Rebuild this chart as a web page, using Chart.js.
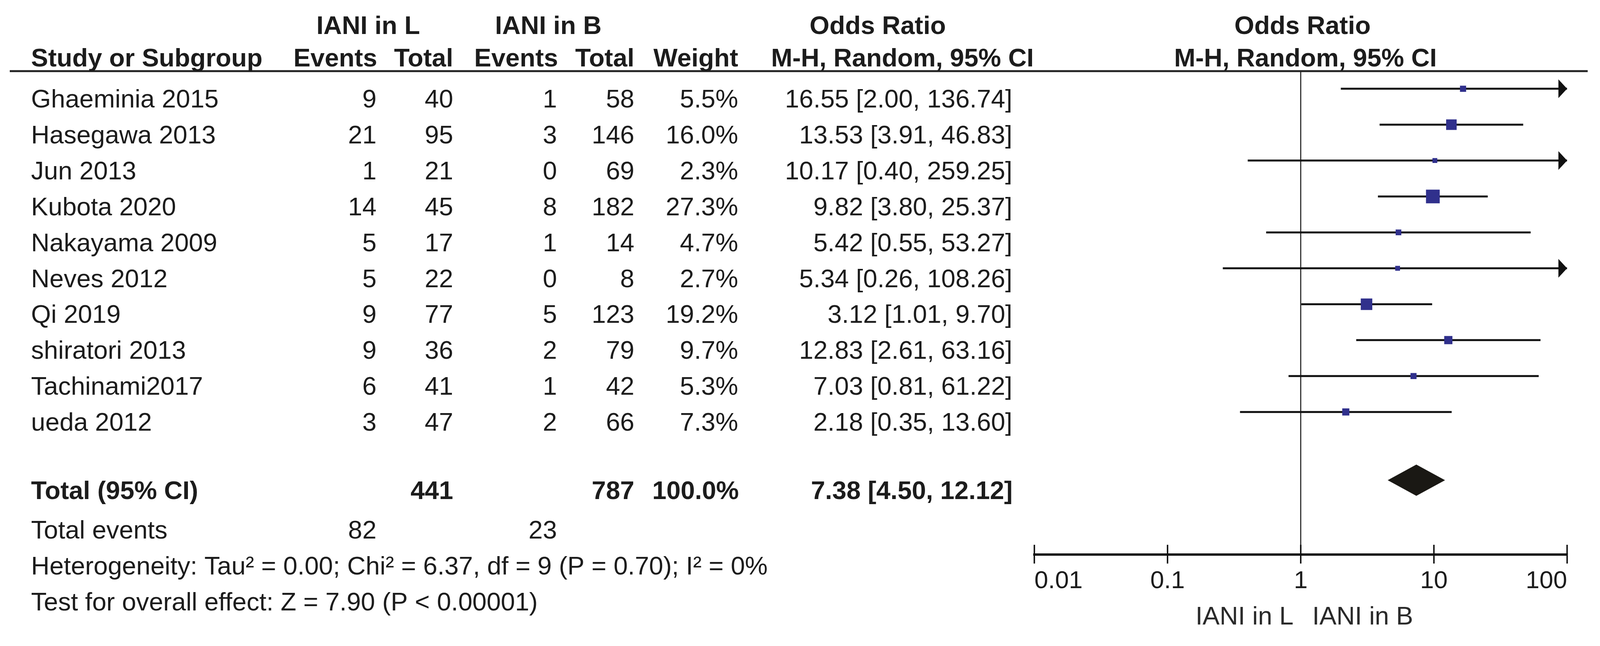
<!DOCTYPE html>
<html>
<head>
<meta charset="utf-8">
<title>Forest plot - IANI in L vs IANI in B</title>
<script src="https://cdn.jsdelivr.net/npm/chart.js@4.4.1/dist/chart.umd.min.js"></script>
<style>
html, body { margin: 0; padding: 0; background: #fff; overflow: hidden; }
#wrap { position: relative; }
</style>
</head>
<body>
<div id="wrap"><canvas id="forestChart"></canvas></div>
<script>
// Study data
var studies = ['Ghaeminia 2015', 'Hasegawa 2013', 'Jun 2013', 'Kubota 2020', 'Nakayama 2009',
               'Neves 2012', 'Qi 2019', 'shiratori 2013', 'Tachinami2017', 'ueda 2012'];
var eventsL = [9, 21, 1, 14, 5, 5, 9, 9, 6, 3];
var totalL = [40, 95, 21, 45, 17, 22, 77, 36, 41, 47];
var eventsB = [1, 3, 0, 8, 1, 0, 5, 2, 1, 2];
var totalB = [58, 146, 69, 182, 14, 8, 123, 79, 42, 66];
var weights = [5.5, 16.0, 2.3, 27.3, 4.7, 2.7, 19.2, 9.7, 5.3, 7.3];
var oddsRatio = [16.55, 13.53, 10.17, 9.82, 5.42, 5.34, 3.12, 12.83, 7.03, 2.18];
var ciLow = [2.00, 3.91, 0.40, 3.80, 0.55, 0.26, 1.01, 2.61, 0.81, 0.35];
var ciHigh = [136.74, 46.83, 259.25, 25.37, 53.27, 108.26, 9.70, 63.16, 61.22, 13.60];

// Pooled result
var pooledTotals = [441, 787];
var pooledEvents = [82, 23];
var pooledWeight = 100.0;
var pooledOR = [7.38, 4.50, 12.12]; // estimate, low, high

// Axis
var xTicks = [0.01, 0.1, 1, 10, 100];
var xTickLabels = ['0.01', '0.1', '1', '10', '100'];

var heterogeneityText = 'Heterogeneity: Tau\u00B2 = 0.00; Chi\u00B2 = 6.37, df = 9 (P = 0.70); I\u00B2 = 0%';
var overallText = 'Test for overall effect: Z = 7.90 (P < 0.00001)';

var FONT = '"Liberation Sans", Arial, Helvetica, sans-serif';
var INK = '#1c1c1c';
var BOX_COLOR = '#30308c';
var TOTAL_ROW = studies.length + 0.9;
var X_MAX = xTicks[xTicks.length - 1];

// layout is designed on a 4424 x 1653 page and stretched to the real viewport
var SX = window.innerWidth / 4424;
var SY = window.innerHeight / 1653;
var FS = Math.sqrt(SX * SY);
function px(v) { return v * SX; }
function py(v) { return v * SY; }
document.getElementById('wrap').style.width = window.innerWidth + 'px';
document.getElementById('wrap').style.height = window.innerHeight + 'px';

function f2(v) { return v.toFixed(2); }
function ciText(or, lo, hi) { return f2(or) + ' [' + f2(lo) + ', ' + f2(hi) + ']'; }
// box side grows with the weight
function boxSide(w) { return FS * Math.max(13, 7 * Math.sqrt(w)); }

function txt(ctx, s, x, y, align, bold) {
    ctx.font = (bold ? 'bold ' : '') + (68 * FS) + 'px ' + FONT;
    ctx.textAlign = align;
    ctx.fillText(s, x, y);
}

// Plugin for the table, the reference lines, arrows and the pooled diamond
var forestPlugin = {
    id: 'forestTable',
    beforeDatasetsDraw: function(chart) {
        var ctx = chart.ctx, area = chart.chartArea, xs = chart.scales.x;
        ctx.save();
        ctx.strokeStyle = '#222';
        ctx.lineWidth = py(5);
        ctx.beginPath();
        ctx.moveTo(px(27), area.top);
        ctx.lineTo(px(4390), area.top);
        ctx.stroke();
        var x1 = xs.getPixelForValue(1);
        ctx.lineWidth = px(3);
        ctx.beginPath();
        ctx.moveTo(x1, area.top);
        ctx.lineTo(x1, area.bottom);
        ctx.stroke();
        ctx.restore();
    },
    afterDatasetsDraw: function(chart) {
        var ctx = chart.ctx, xs = chart.scales.x, ys = chart.scales.y;
        ctx.save();
        // arrows for intervals running past the axis
        ctx.fillStyle = '#111';
        ciHigh.forEach(function(hi, i) {
            if (hi <= X_MAX) return;
            var tip = xs.getPixelForValue(X_MAX), y = ys.getPixelForValue(i);
            ctx.beginPath();
            ctx.moveTo(tip, y);
            ctx.lineTo(tip - px(24), y - py(24));
            ctx.lineTo(tip - px(24), y + py(24));
            ctx.closePath();
            ctx.fill();
        });
        // pooled diamond
        var xl = xs.getPixelForValue(pooledOR[1]);
        var xc = xs.getPixelForValue(pooledOR[0]);
        var xr = xs.getPixelForValue(pooledOR[2]);
        var yc = ys.getPixelForValue(TOTAL_ROW);
        ctx.fillStyle = '#1a1814';
        ctx.beginPath();
        ctx.moveTo(xl, yc);
        ctx.lineTo(xc, yc - py(40));
        ctx.lineTo(xr, yc);
        ctx.lineTo(xc, yc + py(40));
        ctx.closePath();
        ctx.fill();
        ctx.restore();
    },
    afterDraw: function(chart) {
        var ctx = chart.ctx, area = chart.chartArea, xs = chart.scales.x, ys = chart.scales.y;
        var x1 = xs.getPixelForValue(1);
        var off = py(48);
        ctx.save();
        ctx.fillStyle = INK;
        ctx.textBaseline = 'alphabetic';

        // headers
        var h1 = area.top - py(95), h2 = area.top - py(12);
        txt(ctx, 'IANI in L', px(1018), h1, 'center', true);
        txt(ctx, 'IANI in B', px(1516), h1, 'center', true);
        txt(ctx, 'Odds Ratio', px(2427), h1, 'center', true);
        txt(ctx, 'Odds Ratio', x1 + px(5), h1, 'center', true);
        txt(ctx, 'Study or Subgroup', px(86), h2, 'left', true);
        txt(ctx, 'Events', px(1043), h2, 'right', true);
        txt(ctx, 'Total', px(1253), h2, 'right', true);
        txt(ctx, 'Events', px(1543), h2, 'right', true);
        txt(ctx, 'Total', px(1754), h2, 'right', true);
        txt(ctx, 'Weight', px(2041), h2, 'right', true);
        txt(ctx, 'M-H, Random, 95% CI', px(2132), h2, 'left', true);
        txt(ctx, 'M-H, Random, 95% CI', x1 + px(13), h2, 'center', true);

        // study rows
        studies.forEach(function(name, i) {
            var y = ys.getPixelForValue(i) + off;
            txt(ctx, name, px(86), y, 'left', false);
            txt(ctx, String(eventsL[i]), px(1041), y, 'right', false);
            txt(ctx, String(totalL[i]), px(1253), y, 'right', false);
            txt(ctx, String(eventsB[i]), px(1540), y, 'right', false);
            txt(ctx, String(totalB[i]), px(1754), y, 'right', false);
            txt(ctx, weights[i].toFixed(1) + '%', px(2041), y, 'right', false);
            txt(ctx, ciText(oddsRatio[i], ciLow[i], ciHigh[i]), px(2799), y, 'right', false);
        });

        // totals and footnotes
        var yt = ys.getPixelForValue(TOTAL_ROW) + off;
        txt(ctx, 'Total (95% CI)', px(86), yt, 'left', true);
        txt(ctx, String(pooledTotals[0]), px(1253), yt, 'right', true);
        txt(ctx, String(pooledTotals[1]), px(1754), yt, 'right', true);
        txt(ctx, pooledWeight.toFixed(1) + '%', px(2043), yt, 'right', true);
        txt(ctx, ciText(pooledOR[0], pooledOR[1], pooledOR[2]), px(2800), yt, 'right', true);

        var ye = ys.getPixelForValue(studies.length + 2) + off;
        txt(ctx, 'Total events', px(86), ye, 'left', false);
        txt(ctx, String(pooledEvents[0]), px(1041), ye, 'right', false);
        txt(ctx, String(pooledEvents[1]), px(1540), ye, 'right', false);
        txt(ctx, heterogeneityText, px(86), ys.getPixelForValue(studies.length + 3) + off, 'left', false);
        txt(ctx, overallText, px(86), ys.getPixelForValue(studies.length + 4) + off, 'left', false);

        // upper half of the axis tick marks
        ctx.strokeStyle = '#111';
        ctx.lineWidth = px(4);
        xs.ticks.forEach(function(t) {
            var x = xs.getPixelForValue(t.value);
            ctx.beginPath();
            ctx.moveTo(x, area.bottom - py(25));
            ctx.lineTo(x, area.bottom);
            ctx.stroke();
        });

        // favours captions
        ctx.fillStyle = '#2a2a2a';
        txt(ctx, 'IANI in L', x1 - px(20), area.bottom + py(179), 'right', false);
        txt(ctx, 'IANI in B', x1 + px(32), area.bottom + py(179), 'left', false);
        ctx.restore();
    }
};

var ciDatasets = studies.map(function(name, i) {
    return {
        type: 'scatter',
        label: name,
        data: [{ x: ciLow[i], y: i }, { x: Math.min(ciHigh[i], X_MAX), y: i }],
        showLine: true,
        borderColor: '#111',
        borderWidth: py(5),
        pointRadius: 0,
        order: 2
    };
});

var boxDataset = {
    type: 'scatter',
    label: 'Odds ratio',
    data: oddsRatio.map(function(v, i) { return { x: v, y: i }; }),
    pointStyle: 'rect',
    pointRadius: function(c) { return boxSide(weights[c.dataIndex]) / Math.SQRT2; },
    pointHoverRadius: function(c) { return boxSide(weights[c.dataIndex]) / Math.SQRT2; },
    backgroundColor: BOX_COLOR,
    borderWidth: 0,
    order: 1
};

var ctx = document.getElementById('forestChart').getContext('2d');
var forestChart = new Chart(ctx, {
    type: 'scatter',
    data: { datasets: [boxDataset].concat(ciDatasets) },
    options: {
        responsive: true,
        maintainAspectRatio: false,
        animation: false,
        layout: { padding: { left: px(2860), right: px(91), top: py(182), bottom: 0 } },
        plugins: { legend: { display: false }, tooltip: { enabled: false } },
        scales: {
            x: {
                type: 'logarithmic',
                position: 'bottom',
                min: xTicks[0],
                max: X_MAX,
                afterBuildTicks: function(scale) {
                    scale.ticks = xTicks.map(function(v) { return { value: v }; });
                },
                afterFit: function(scale) { scale.height = py(234); },
                grid: { drawOnChartArea: false, drawTicks: true, tickLength: py(23), lineWidth: px(4), color: '#111' },
                border: { display: true, width: py(6), color: '#111' },
                ticks: {
                    callback: function(value, index) { return xTickLabels[index]; },
                    align: 'inner',
                    autoSkip: false,
                    maxRotation: 0,
                    padding: py(7),
                    color: INK,
                    font: { family: FONT, size: 66 * FS }
                }
            },
            y: { type: 'linear', reverse: true, min: -0.49, max: 12.97, display: false }
        }
    },
    plugins: [forestPlugin]
});
</script>
</body>
</html>
